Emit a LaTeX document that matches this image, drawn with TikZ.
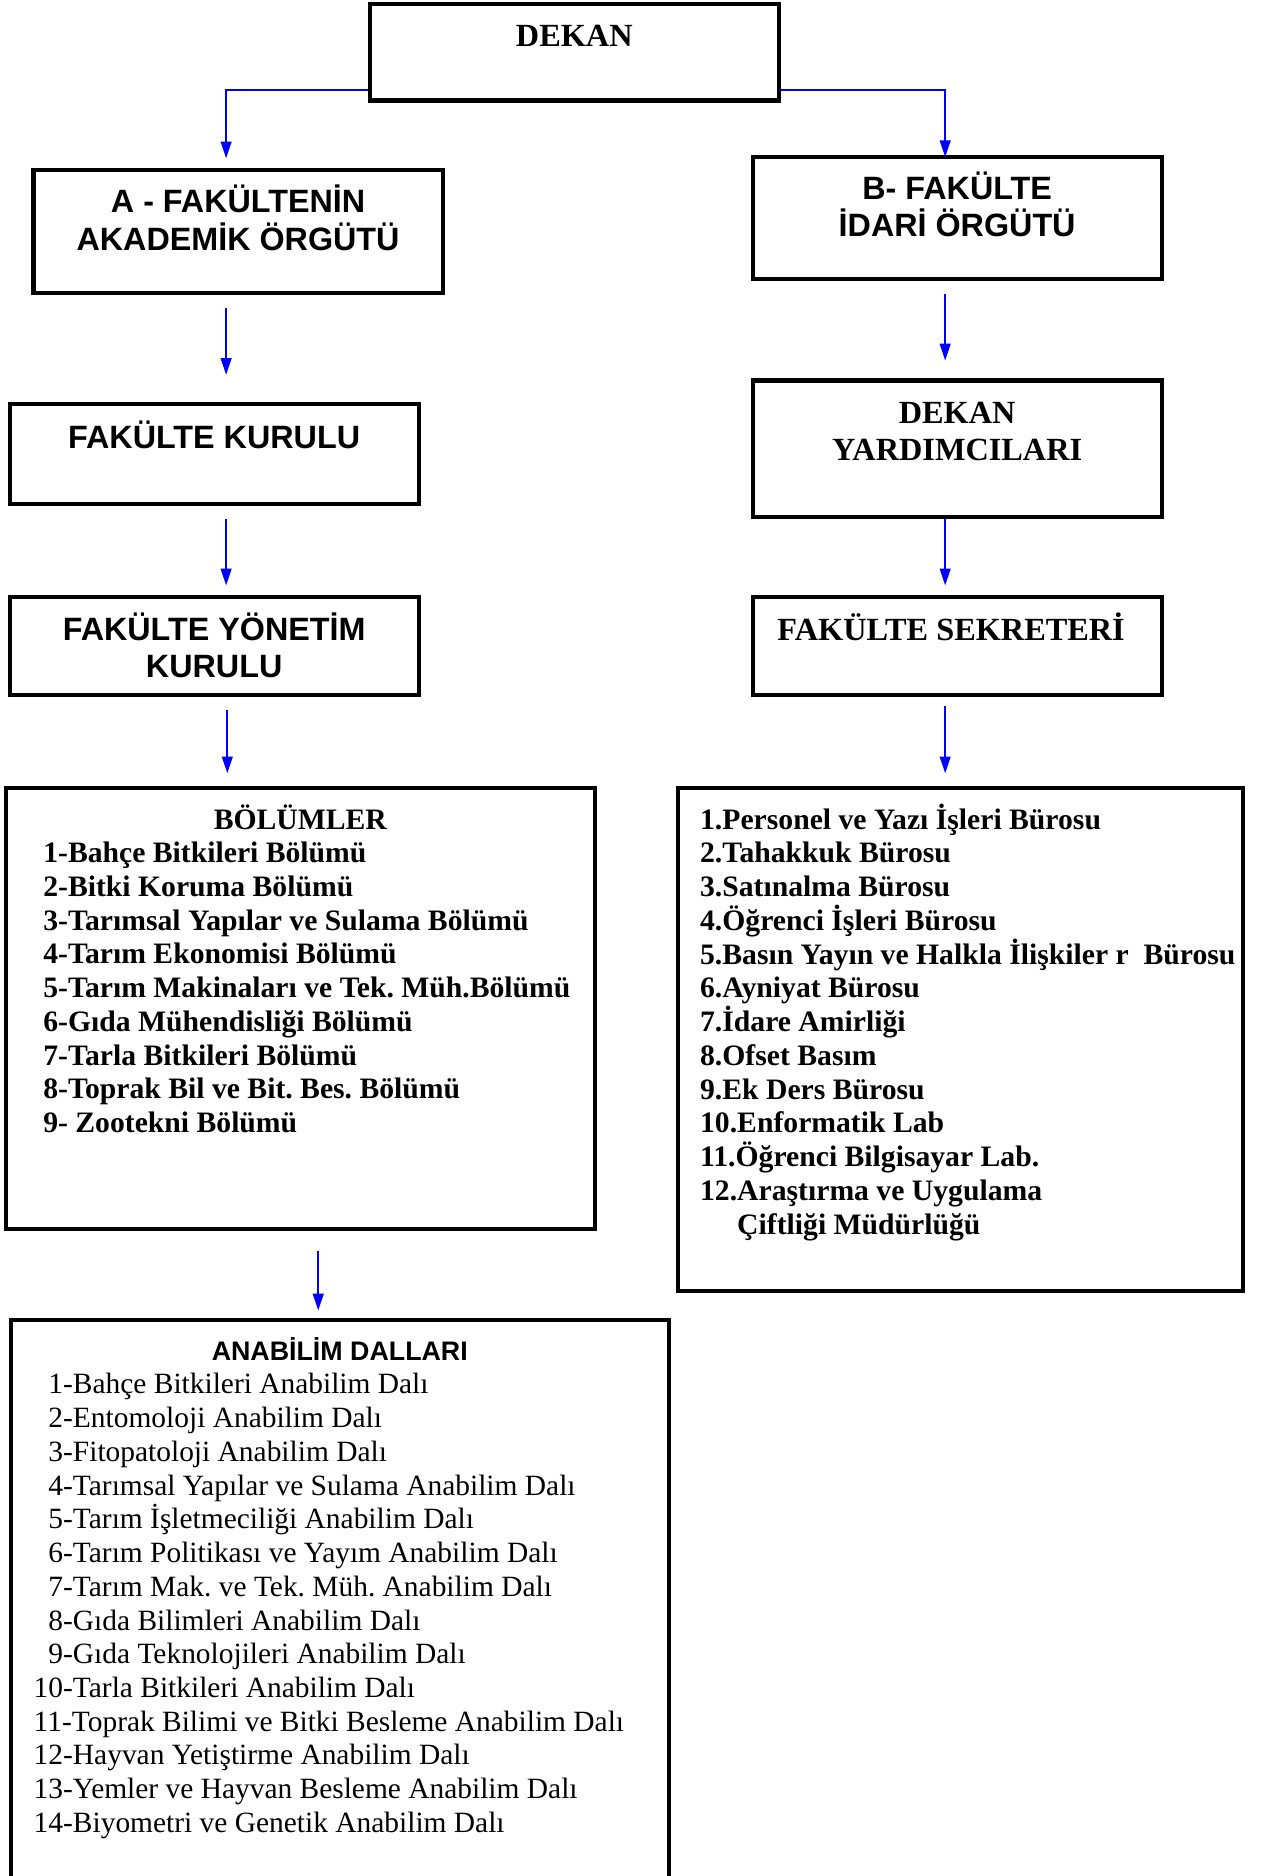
\documentclass[tikz,border=0pt]{standalone}
\usepackage{fontspec}
\setmainfont{Liberation Serif}
\setsansfont{Liberation Sans}
\usetikzlibrary{arrows.meta}
\frenchspacing
\begin{document}
\begin{tikzpicture}[x=1pt,y=-1pt,
  box/.style={draw, line width=3.4pt, inner sep=0pt, rectangle},
  arr/.style={draw=blue, line width=1.4pt, -{Triangle[length=14pt,width=9pt]}},
  hser/.style={font=\fontsize{27}{31}\selectfont\bfseries, inner sep=0pt, anchor=base},
  hsan/.style={font=\sffamily\fontsize{27}{31}\selectfont\bfseries, inner sep=0pt, anchor=base},
  listb/.style={font=\fontsize{24.8}{28.2}\selectfont\bfseries\frenchspacing, inner sep=0pt, anchor=base west},
  listr/.style={font=\fontsize{24.6}{28.2}\selectfont\frenchspacing, inner sep=0pt, anchor=base west},
  atitle/.style={font=\sffamily\fontsize{22.4}{26}\selectfont\bfseries, inner sep=0pt, anchor=base}]
\useasboundingbox (0,0) rectangle (1056,1568);
\clip (0,0) rectangle (1056,1568);
% boxes
\node[box, minimum width=342pt, minimum height=81pt]  (dekan) at (480,43.5) {};
\node[box, minimum width=342pt, minimum height=103pt] (akad)  at (199,193.5) {};
\node[box, minimum width=342pt, minimum height=102pt] (idari) at (800,182) {};
\node[box, minimum width=342pt, minimum height=83pt]  (fk)    at (179,379.5) {};
\node[box, minimum width=342pt, minimum height=114pt] (dy)    at (800,375) {};
\node[box, minimum width=342pt, minimum height=82pt]  (fyk)   at (179,540) {};
\node[box, minimum width=342pt, minimum height=82pt]  (fs)    at (800,540) {};
\node[box, minimum width=492pt, minimum height=368pt] (bol)   at (251,843) {};
\node[box, minimum width=472pt, minimum height=420pt] (buro)  at (803,869) {};
\node[box, minimum width=550pt, minimum height=497pt] (abd)   at (284,1351.5) {};
% box texts
\node[hser] (tdekan) at (480,39) {DEKAN};
\node[hsan] (takad1) at (199,178) {A - FAKÜLTENİN};
\node[hsan] (takad2) at (199,209) {AKADEMİK ÖRGÜTÜ};
\node[hsan] (tidari1) at (800,167) {B- FAKÜLTE};
\node[hsan] (tidari2) at (800,198) {İDARİ ÖRGÜTÜ};
\node[hsan] (tfk) at (179,375) {FAKÜLTE KURULU};
\node[hser] (tdy1) at (800,354) {DEKAN};
\node[hser] (tdy2) at (800,385) {YARDIMCILARI};
\node[hsan] (tfyk1) at (179,535) {FAKÜLTE YÖNETİM};
\node[hsan] (tfyk2) at (179,566) {KURULU};
\node[hser] (tfs) at (795,535) {FAKÜLTE SEKRETERİ};
% BÖLÜMLER
\node[font=\fontsize{24.8}{28.2}\selectfont\bfseries, inner sep=0pt, anchor=base] (tbol) at (251,693) {BÖLÜMLER};
\foreach \t [count=\i from 0] in {1-Bahçe Bitkileri Bölümü, 2-Bitki Koruma Bölümü,
  3-Tarımsal Yapılar ve Sulama Bölümü, 4-Tarım Ekonomisi Bölümü,
  5-Tarım Makinaları ve Tek. Müh.Bölümü, 6-Gıda Mühendisliği Bölümü,
  7-Tarla Bitkileri Bölümü, 8-Toprak Bil ve Bit. Bes. Bölümü, 9- Zootekni Bölümü}
  \node[listb] (bol\i) at (36,{721+28.2*\i}) {\t};
% Bürolar
\foreach \t [count=\i from 0] in {1.Personel ve Yazı İşleri Bürosu, 2.Tahakkuk Bürosu,
  3.Satınalma Bürosu, 4.Öğrenci İşleri Bürosu,
  5.Basın Yayın ve Halkla İlişkiler r~ Bürosu, 6.Ayniyat Bürosu,
  7.İdare Amirliği, 8.Ofset Basım, 9.Ek Ders Bürosu, 10.Enformatik Lab,
  11.Öğrenci Bilgisayar Lab., 12.Araştırma ve Uygulama, \hphantom{12.}Çiftliği Müdürlüğü}
  \node[listb] (buro\i) at (585,{693+28.2*\i}) {\t};
% Anabilim dalları
\node[atitle] (tabd) at (284,1137) {ANABİLİM DALLARI};
\foreach \t [count=\i from 0] in {\hphantom{1}1-Bahçe Bitkileri Anabilim Dalı,
  \hphantom{1}2-Entomoloji Anabilim Dalı, \hphantom{1}3-Fitopatoloji Anabilim Dalı,
  \hphantom{1}4-Tarımsal Yapılar ve Sulama Anabilim Dalı,
  \hphantom{1}5-Tarım İşletmeciliği Anabilim Dalı,
  \hphantom{1}6-Tarım Politikası ve Yayım Anabilim Dalı,
  \hphantom{1}7-Tarım Mak. ve Tek. Müh. Anabilim Dalı,
  \hphantom{1}8-Gıda Bilimleri Anabilim Dalı,
  \hphantom{1}9-Gıda Teknolojileri Anabilim Dalı,
  10-Tarla Bitkileri Anabilim Dalı,
  11-Toprak Bilimi ve Bitki Besleme Anabilim Dalı,
  12-Hayvan Yetiştirme Anabilim Dalı,
  13-Yemler ve Hayvan Besleme Anabilim Dalı,
  14-Biyometri ve Genetik Anabilim Dalı}
  \node[listr] (abd\i) at (28,{1165+28.2*\i}) {\t};
% connectors
\coordinate (colL) at (189,0);
\coordinate (colR) at (790,0);
\coordinate (colB) at (266,0);
\coordinate (colF) at (190,0);
\draw[arr] ([yshift=-31.5pt]dekan.west) -| ([yshift=8pt]akad.north -| colL);
\draw[arr] ([yshift=-31.5pt]dekan.east) -| ([yshift=-2pt]idari.north -| colR);
\draw[arr] ([yshift=-11pt]akad.south -| colL) -- ([yshift=23pt]fk.north -| colL);
\draw[arr] ([yshift=-11pt]fk.south -| colL) -- ([yshift=8pt]fyk.north -| colL);
\draw[arr] ([yshift=-11pt]fyk.south -| colF) -- ([yshift=11pt]bol.north -| colF);
\draw[arr] ([yshift=-17pt]bol.south -| colB) -- ([yshift=6pt]abd.north -| colB);
\draw[arr] ([yshift=-11pt]idari.south -| colR) -- ([yshift=15pt]dy.north -| colR);
\draw[arr] (dy.south -| colR) -- ([yshift=8pt]fs.north -| colR);
\draw[arr] ([yshift=-7pt]fs.south -| colR) -- ([yshift=11pt]buro.north -| colR);
\end{tikzpicture}
\end{document}
